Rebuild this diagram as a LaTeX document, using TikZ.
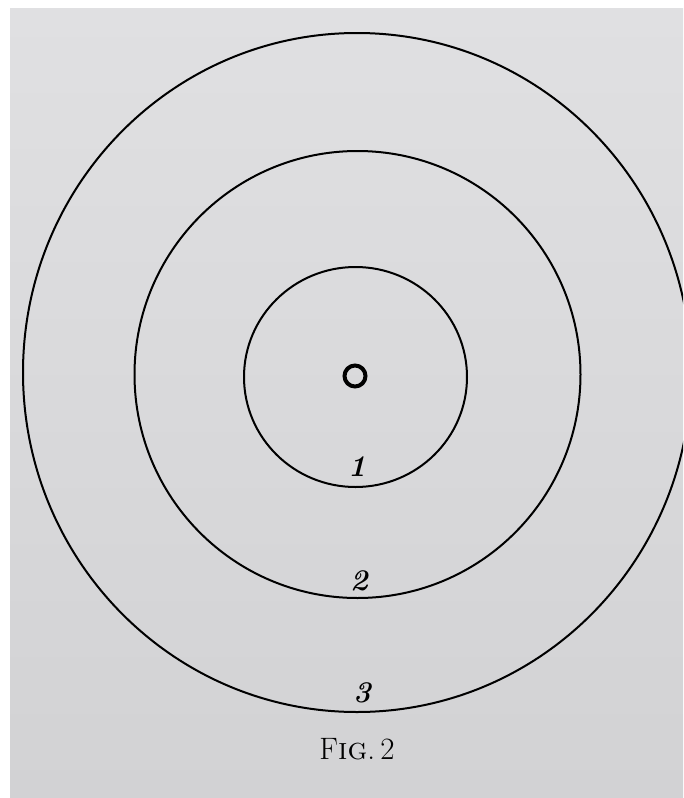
\documentclass[tikz,border=0pt]{standalone}
\usepackage{fontspec}
\usepackage{tikz}
\usetikzlibrary{positioning}
\definecolor{papertop}{RGB}{224,224,226}
\definecolor{paperbottom}{RGB}{210,210,212}

\begin{document}
\begin{tikzpicture}[
    x=1pt, y=-1pt,
    ring/.style={draw=black, line width=2pt},
    ringlabel/.style={font=\fontsize{30}{32}\selectfont\bfseries\itshape, inner sep=0pt},
    caption/.style={font=\fontsize{31}{34}\selectfont, inner sep=0pt}
]

% Page and paper
\useasboundingbox (0,0) rectangle (683,798);
\fill[white] (0,0) rectangle (683,798);
\shade[top color=papertop, bottom color=paperbottom] (10,8) rectangle (683,798);
\clip (0,0) rectangle (683,798);

% Target rings
\draw[ring] (357,372.5) ellipse [x radius=334pt, y radius=339.5pt];
\draw[ring] (357.5,374.5) ellipse [x radius=223pt, y radius=223.5pt];
\draw[ring] (355.5,377) ellipse [x radius=111.5pt, y radius=110pt];

% Centre mark
\coordinate (centre) at (355,376);
\draw[line width=4pt] (centre) circle [radius=10.5pt];

% Ring numbers
\node[ringlabel] (one) at (357,467) {1};
\node[ringlabel] (two) at (359,581) {2};
\node[ringlabel] (three) at (362,693) {3};

% Caption
\node[caption] (fig) at (357,749) {F{\scshape ig}.\,2};

\end{tikzpicture}
\end{document}
